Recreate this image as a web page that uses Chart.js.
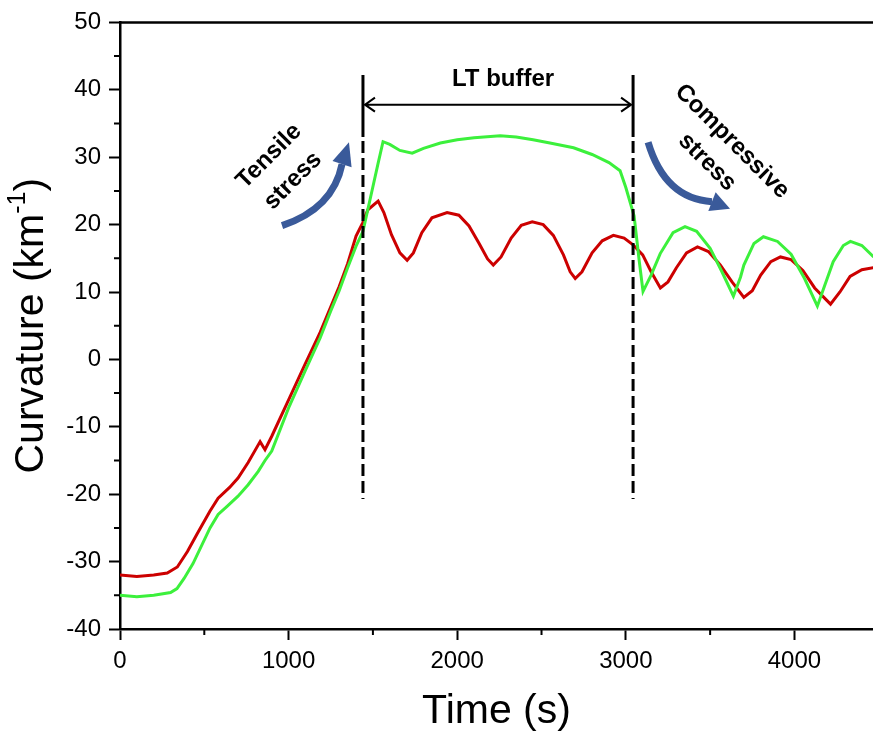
<!DOCTYPE html>
<html>
<head>
<meta charset="utf-8">
<script src="https://cdn.jsdelivr.net/npm/chart.js@4.4.0/dist/chart.umd.min.js"></script>
<style>
html, body { margin: 0; padding: 0; background: #fff; }
#wrap { width: 873px; height: 738px; }
</style>
</head>
<body>
<div id="wrap"><canvas id="chart" width="873" height="738"></canvas></div>
<script>
// red curve
const redTime = [0, 100, 200, 280, 340, 400, 457, 534, 582, 650, 700, 760, 831, 860, 900, 1000, 1100, 1187, 1250, 1300,
    1350, 1400, 1440, 1470, 1531, 1565, 1610, 1660, 1703, 1740, 1790, 1850, 1940, 2010, 2070, 2130, 2180, 2214, 2260, 2320,
    2380, 2445, 2510, 2570, 2630, 2670, 2700, 2740, 2800, 2860, 2926, 2990, 3043, 3100, 3150, 3205, 3250, 3300, 3360, 3425,
    3490, 3560, 3630, 3700, 3750, 3800, 3860, 3917, 3980, 4050, 4120, 4214, 4270, 4330, 4400, 4470];
const redCurv = [-32.0, -32.2, -32.0, -31.7, -30.8, -28.5, -25.9, -22.5, -20.6, -19.0, -17.6, -15.3, -12.2, -13.4, -11.4, -6.0, -0.6, 4.0, 7.8, 10.8,
    14.2, 18.3, 20.3, 22.2, 23.5, 21.8, 18.5, 15.8, 14.7, 15.8, 18.8, 21.0, 21.8, 21.4, 19.8, 17.2, 14.9, 14.0, 15.2, 18.0,
    19.9, 20.4, 20.0, 18.4, 15.5, 13.0, 12.0, 13.0, 15.8, 17.6, 18.4, 18.0, 17.0, 15.5, 13.0, 10.6, 11.5, 13.6, 15.8, 16.7,
    16.0, 14.0, 11.5, 9.2, 10.2, 12.5, 14.5, 15.2, 14.8, 13.2, 10.6, 8.2, 10.0, 12.3, 13.3, 13.6];

// green curve
const greenTime = [0, 100, 200, 300, 338, 380, 433, 534, 582, 635, 700, 760, 820, 860, 900, 1000, 1100, 1187, 1250, 1300,
    1350, 1400, 1441, 1490, 1530, 1560, 1600, 1660, 1733, 1800, 1900, 2000, 2100, 2255, 2350, 2450, 2550, 2690, 2800, 2900,
    2966, 3000, 3049, 3080, 3102, 3150, 3204, 3280, 3351, 3420, 3500, 3570, 3638, 3680, 3700, 3760, 3816, 3900, 3980, 4060,
    4136, 4180, 4230, 4290, 4332, 4400, 4470];
const greenCurv = [-35.0, -35.2, -35.0, -34.6, -34.0, -32.5, -30.3, -25.0, -23.0, -21.8, -20.3, -18.6, -16.6, -15.0, -13.6, -7.2, -1.6, 3.2, 7.2, 10.2,
    13.6, 16.8, 19.0, 24.5, 29.0, 32.3, 31.9, 31.0, 30.6, 31.3, 32.1, 32.6, 32.9, 33.2, 33.0, 32.6, 32.1, 31.4, 30.4, 29.2,
    28.0, 25.5, 21.3, 14.5, 10.1, 12.5, 15.7, 18.8, 19.7, 19.0, 16.5, 13.0, 9.4, 12.2, 14.0, 17.2, 18.2, 17.5, 15.6, 12.0,
    7.9, 11.0, 14.5, 16.9, 17.5, 16.9, 15.2];

const xTicks = [0, 1000, 2000, 3000, 4000];
const yTicks = [-40, -30, -20, -10, 0, 10, 20, 30, 40, 50];

// boundaries of the LT buffer region (time, s)
const bufferStart = 1441;
const bufferEnd = 3043;

const FONT = "'Liberation Sans', Arial, sans-serif";

function toPoints(xs, ys) {
    let pts = [];
    for (let i = 0; i < xs.length; i++) {
        pts.push({x: xs[i], y: ys[i]});
    }
    return pts;
}

function drawArrow(ctx, tail, ctrl, base, tip, color) {
    ctx.strokeStyle = color;
    ctx.fillStyle = color;
    ctx.lineWidth = 7;
    ctx.lineCap = 'butt';
    ctx.beginPath();
    ctx.moveTo(tail[0], tail[1]);
    ctx.quadraticCurveTo(ctrl[0], ctrl[1], base[0], base[1]);
    ctx.stroke();
    let dx = tip[0] - base[0], dy = tip[1] - base[1];
    let len = Math.sqrt(dx * dx + dy * dy);
    let nx = -dy / len * 10, ny = dx / len * 10;
    ctx.beginPath();
    ctx.moveTo(tip[0], tip[1]);
    ctx.lineTo(base[0] + nx, base[1] + ny);
    ctx.lineTo(base[0] - nx, base[1] - ny);
    ctx.closePath();
    ctx.fill();
}

function rotText(ctx, txt, x, y, ang) {
    ctx.save();
    ctx.translate(x, y);
    ctx.rotate(ang);
    ctx.fillText(txt, 0, 0);
    ctx.restore();
}

const annotations = {
    id: 'annotations',
    afterDraw(chart) {
        const ctx = chart.ctx;
        const a = chart.chartArea;
        const X = v => chart.scales.x.getPixelForValue(v);
        const Y = v => chart.scales.y.getPixelForValue(v);
        const P = (t, c) => [X(t), Y(c)];

        ctx.save();

        // top frame line
        ctx.strokeStyle = '#000';
        ctx.lineWidth = 2.5;
        ctx.beginPath();
        ctx.moveTo(a.left - 1, a.top);
        ctx.lineTo(a.right, a.top);
        ctx.stroke();

        // minor ticks
        ctx.lineWidth = 2;
        ctx.beginPath();
        for (let v = 500; v < 4500; v += 1000) {
            ctx.moveTo(X(v), a.bottom);
            ctx.lineTo(X(v), a.bottom + 6);
        }
        for (let v = -35; v < 50; v += 10) {
            ctx.moveTo(a.left, Y(v));
            ctx.lineTo(a.left - 6, Y(v));
        }
        ctx.stroke();

        // boundary lines: solid top, dashed below
        ctx.lineWidth = 3;
        [bufferStart, bufferEnd].forEach(t => {
            ctx.setLineDash([]);
            ctx.beginPath();
            ctx.moveTo(X(t), Y(42.2));
            ctx.lineTo(X(t), Y(33.0));
            ctx.stroke();
            ctx.setLineDash([12, 5]);
            ctx.beginPath();
            ctx.moveTo(X(t), Y(32.4));
            ctx.lineTo(X(t), Y(-20.7));
            ctx.stroke();
        });
        ctx.setLineDash([]);

        // double arrow
        let ay = Y(37.8), ax1 = X(bufferStart) + 2, ax2 = X(bufferEnd) - 2;
        ctx.lineWidth = 2;
        ctx.beginPath();
        ctx.moveTo(ax1, ay);
        ctx.lineTo(ax2, ay);
        ctx.moveTo(ax1 + 10, ay - 7);
        ctx.lineTo(ax1, ay);
        ctx.lineTo(ax1 + 10, ay + 7);
        ctx.moveTo(ax2 - 10, ay - 7);
        ctx.lineTo(ax2, ay);
        ctx.lineTo(ax2 - 10, ay + 7);
        ctx.stroke();

        // texts
        ctx.fillStyle = '#000';
        ctx.textAlign = 'center';
        ctx.textBaseline = 'middle';
        ctx.font = 'bold 24px ' + FONT;
        ctx.fillText('LT buffer', X(2272), Y(41.5));
        let p;
        p = P(884, 30.15); rotText(ctx, 'Tensile', p[0], p[1], -Math.PI / 4);
        p = P(1026, 26.5); rotText(ctx, 'stress', p[0], p[1], -Math.PI / 4);
        p = P(3630, 32.35); rotText(ctx, 'Compressive', p[0], p[1], Math.PI / 4);
        p = P(3482, 29.26); rotText(ctx, 'stress', p[0], p[1], Math.PI / 4);

        // blue curved arrows
        const blue = '#3a5a9a';
        drawArrow(ctx, P(961, 19.85), P(1263, 22.35), P(1317, 28.97), P(1358, 32.2), blue);
        drawArrow(ctx, P(3132, 32.2), P(3232, 23.8), P(3511, 23.4), P(3618, 22.35), blue);

        // axis titles
        ctx.fillStyle = '#000';
        ctx.font = '41px ' + FONT;
        ctx.textAlign = 'center';
        ctx.textBaseline = 'middle';
        ctx.fillText('Time (s)', (a.left + a.right) / 2, 712);

        ctx.save();
        ctx.translate(32, (a.top + a.bottom) / 2);
        ctx.rotate(-Math.PI / 2);
        ctx.textAlign = 'left';
        let mainTxt = 'Curvature (km';
        ctx.font = '41px ' + FONT;
        let w1 = ctx.measureText(mainTxt).width;
        let w3 = ctx.measureText(')').width;
        ctx.font = '25px ' + FONT;
        let w2 = ctx.measureText('-1').width;
        let x0 = -(w1 + w2 + w3) / 2;
        ctx.font = '41px ' + FONT;
        ctx.fillText(mainTxt, x0, 0);
        ctx.font = '25px ' + FONT;
        ctx.fillText('-1', x0 + w1, -14);
        ctx.font = '41px ' + FONT;
        ctx.fillText(')', x0 + w1 + w2, 0);
        ctx.restore();

        ctx.restore();
    }
};

const chart_data = {
    datasets: [
        {
            label: 'green',
            data: toPoints(greenTime, greenCurv),
            borderColor: '#3cf03c',
            borderWidth: 3,
            pointRadius: 0,
            tension: 0
        },
        {
            label: 'red',
            data: toPoints(redTime, redCurv),
            borderColor: '#cc0000',
            borderWidth: 3,
            pointRadius: 0,
            tension: 0
        }
    ]
};

const option = {
    responsive: false,
    animation: false,
    devicePixelRatio: 1,
    layout: { padding: { top: 17, right: 0, left: 0, bottom: 0 } },
    plugins: { legend: { display: false }, tooltip: { enabled: false } },
    scales: {
        x: {
            type: 'linear',
            min: 0,
            max: 4466,
            afterBuildTicks: s => { s.ticks = xTicks.map(v => ({value: v})); },
            afterFit: s => { s.height = 109; },
            grid: { drawOnChartArea: false, tickLength: 11, tickWidth: 2, tickColor: '#000' },
            border: { display: true, color: '#000', width: 2.5 },
            ticks: { color: '#000', padding: 7, maxRotation: 0, font: { size: 24, family: FONT },
                     callback: v => String(v) }
        },
        y: {
            type: 'linear',
            min: -40,
            max: 50,
            afterBuildTicks: s => { s.ticks = yTicks.map(v => ({value: v})); },
            afterFit: s => { s.width = 120; },
            grid: { drawOnChartArea: false, tickLength: 11, tickWidth: 2, tickColor: '#000' },
            border: { display: true, color: '#000', width: 2.5 },
            ticks: { color: '#000', padding: 8, font: { size: 24, family: FONT },
                     callback: v => String(v) }
        }
    }
};

new Chart(document.getElementById('chart').getContext('2d'), {
    type: 'line',
    data: chart_data,
    options: option,
    plugins: [annotations]
});
</script>
</body>
</html>
